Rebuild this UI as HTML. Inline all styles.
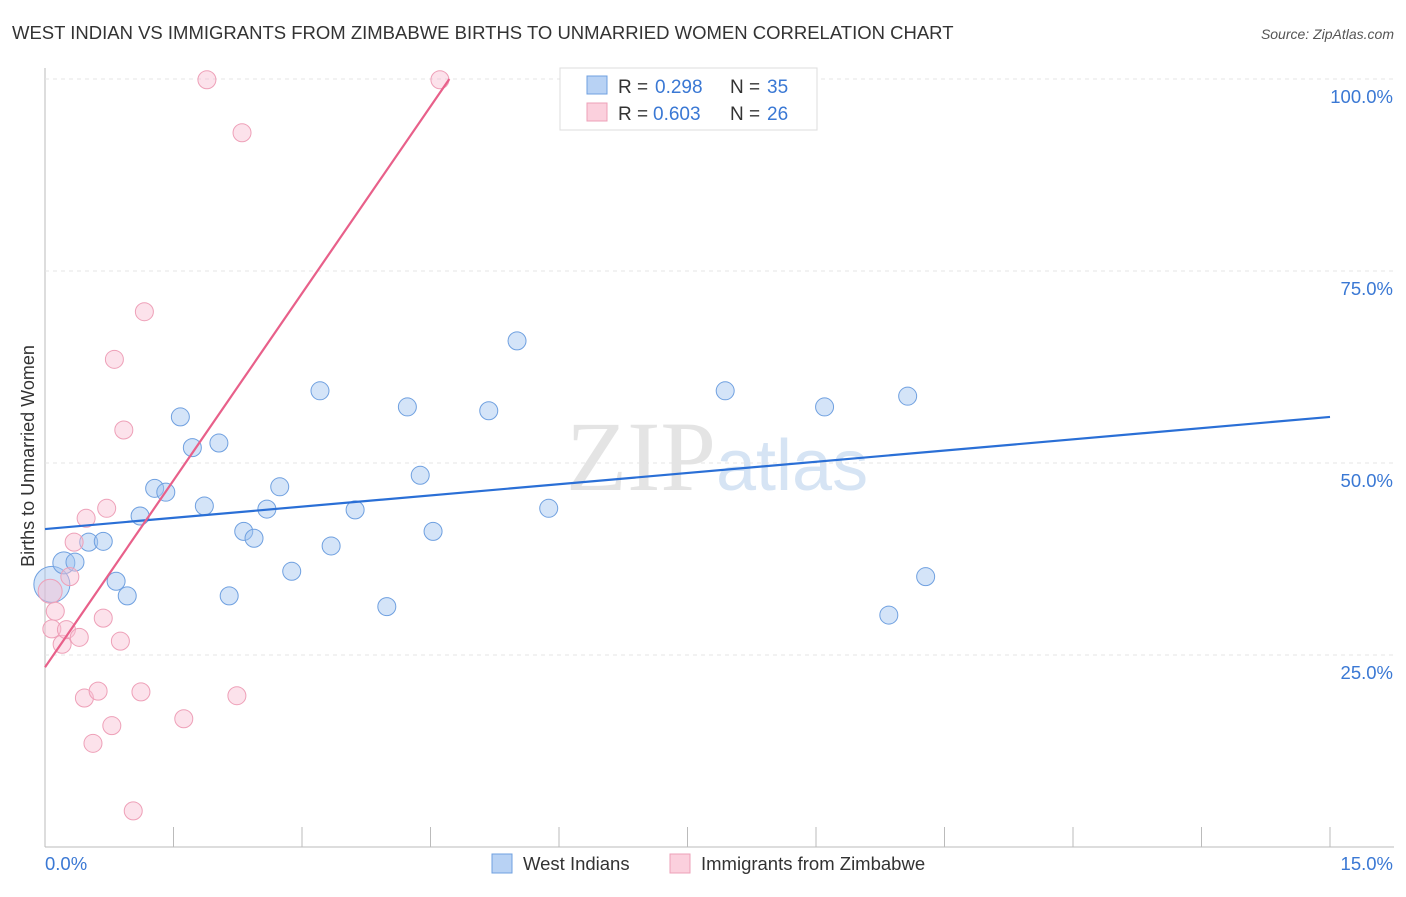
<!DOCTYPE html>
<html><head><meta charset="utf-8"><style>
body{margin:0;background:#fff;font-family:"Liberation Sans",sans-serif;}
</style></head><body>
<svg id="c" width="1406" height="892" xmlns="http://www.w3.org/2000/svg">
<text x="12" y="39" font-size="18.5" fill="#333">WEST INDIAN VS IMMIGRANTS FROM ZIMBABWE BIRTHS TO UNMARRIED WOMEN CORRELATION CHART</text>
<text x="1394" y="39" font-size="14" fill="#555" font-style="italic" text-anchor="end">Source: ZipAtlas.com</text>
<text x="716" y="490" font-size="100" font-family="Liberation Serif,serif" fill="#e4e4e4" text-anchor="end">ZIP</text>
<text x="716" y="490" font-size="72" fill="#d6e4f4">atlas</text>
<text transform="translate(34,456) rotate(-90)" font-size="18" fill="#333" text-anchor="middle">Births to Unmarried Women</text>
<g id="grid"></g><g id="pts"></g><g id="lines"></g>
<g>
<rect x="560" y="68" width="257" height="62" fill="#fff" stroke="#ddd"/>
<rect x="587" y="76" width="20" height="18" fill="#b8d2f4" stroke="#6fa0e0"/>
<text x="618" y="93" font-size="19" fill="#333">R = </text><text x="655" y="93" font-size="19" fill="#3a78d4">0.298</text>
<text x="730" y="93" font-size="19" fill="#333">N = </text><text x="767" y="93" font-size="19" fill="#3a78d4">35</text>
<rect x="587" y="103" width="20" height="18" fill="#fbd0dd" stroke="#eea0b8"/>
<text x="618" y="120" font-size="19" fill="#333">R = </text><text x="653" y="120" font-size="19" fill="#3a78d4">0.603</text>
<text x="730" y="120" font-size="19" fill="#333">N = </text><text x="767" y="120" font-size="19" fill="#3a78d4">26</text>
</g>
<g>
<rect x="492" y="854" width="20" height="19" fill="#b8d2f4" stroke="#6fa0e0"/>
<text x="523" y="870" font-size="18.5" fill="#333">West Indians</text>
<rect x="670" y="854" width="20" height="19" fill="#fbd0dd" stroke="#eea0b8"/>
<text x="701" y="870" font-size="18.5" fill="#333">Immigrants from Zimbabwe</text>
</g>
</svg>
<script>
const blueX=[0.08,0.22,0.35,0.51,0.68,0.83,0.96,1.11,1.28,1.41,1.58,1.72,1.86,2.03,2.15,2.32,2.44,2.59,2.74,2.88,3.21,3.34,3.62,3.99,4.23,4.38,4.53,5.18,5.51,5.88,7.94,9.10,9.85,10.07,10.28];
const blueY=[34.2,37.0,37.1,39.7,39.8,34.6,32.7,43.1,46.7,46.2,56.0,52.0,44.4,52.6,32.7,41.1,40.2,44.0,46.9,35.9,59.4,39.2,43.9,31.3,57.3,48.4,41.1,56.8,65.9,44.1,59.4,57.3,30.2,58.7,35.2];
const pinkX=[0.06,0.12,0.08,0.2,0.25,0.4,0.29,0.34,0.48,0.72,0.68,0.88,0.46,0.62,0.78,0.56,1.12,1.03,1.62,2.24,0.81,1.16,0.92,1.89,2.30,4.61];
const pinkY=[33.3,30.7,28.4,26.4,28.3,27.3,35.2,39.7,42.8,44.1,29.8,26.8,19.4,20.3,15.8,13.5,20.2,4.7,16.7,19.7,63.5,69.7,54.3,99.9,93.0,99.9];
const blueTrend=[41.4,56.0];
const pinkTrend=[23.4,100];const pinkTrendEndX=4.72;
const yTicks=[25,50,75,100];
const NS="http://www.w3.org/2000/svg";
const sx=v=>45+v*(1285/15), sy=v=>847-v*7.68;
function mk(t,a,p){const e=document.createElementNS(NS,t);for(const k in a)e.setAttribute(k,a[k]);p.appendChild(e);return e;}
const grid=document.getElementById('grid'),pts=document.getElementById('pts'),lines=document.getElementById('lines');
let ax=mk('line',{x1:45,y1:68,x2:45,y2:847,stroke:'#bbb'},grid);


let bx=mk('line',{x1:45,y1:847,x2:1394,y2:847,stroke:'#bbb'},grid);


yTicks.forEach(t=>{
 let g=mk('line',{x1:45,x2:1394,y1:sy(t),y2:sy(t),stroke:'#e4e4e4','stroke-dasharray':'4,4'},grid);
 
 
 let l=mk('text',{x:1393,y:sy(t)+24,'font-size':18.5,fill:'#3a78d4','text-anchor':'end'},grid);l.textContent=t.toFixed(1)+'%';
 
 
});
for(let i=0;i<=10;i++){let t=mk('line',{x1:sx(i*1.5),x2:sx(i*1.5),y1:827,y2:847,stroke:'#bbb'},grid);
 
 }
let x0=mk('text',{x:45,y:870,'font-size':18.5,fill:'#3a78d4'},grid);x0.textContent='0.0%';


let x1=mk('text',{x:1393,y:870,'font-size':18.5,fill:'#3a78d4','text-anchor':'end'},grid);x1.textContent='15.0%';


blueX.forEach((x,i)=>{let c=mk('circle',{cx:sx(x),cy:sy(blueY[i]),r:i==0?18:(i==1?11:9),fill:'rgba(160,196,240,0.45)',stroke:'#6fa0e0','stroke-width':1},pts);
 
 });
pinkX.forEach((x,i)=>{let c=mk('circle',{cx:sx(x),cy:sy(pinkY[i]),r:i==0?12:9,fill:'rgba(248,190,210,0.45)',stroke:'#eea0b8','stroke-width':1},pts);
 
 });
let bl=mk('line',{x1:sx(0),y1:sy(blueTrend[0]),x2:sx(15),y2:sy(blueTrend[1]),stroke:'#2a6fd6','stroke-width':2.2},lines);


let pl=mk('line',{x1:sx(0),y1:sy(pinkTrend[0]),x2:sx(pinkTrendEndX),y2:sy(pinkTrend[1]),stroke:'#e8608a','stroke-width':2.2},lines);


</script>
</body></html>
